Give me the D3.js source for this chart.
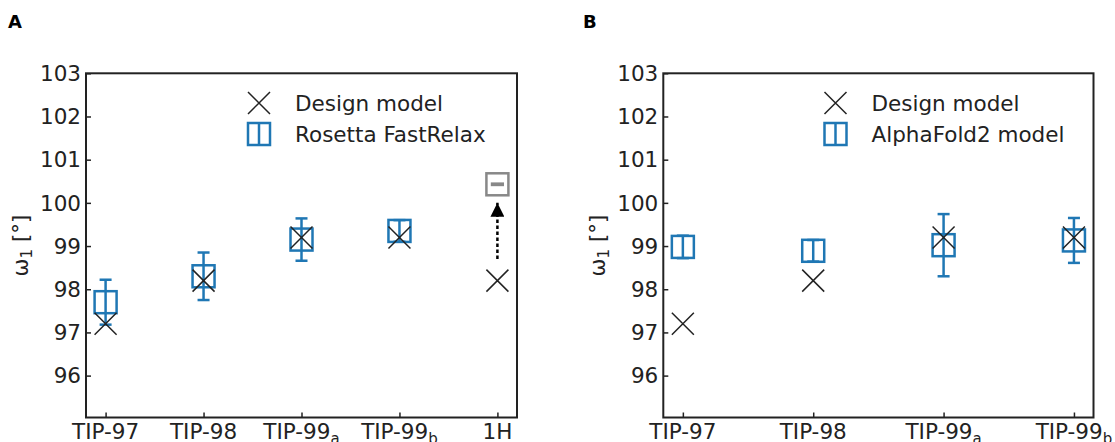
<!DOCTYPE html>
<html>
<head>
<meta charset="utf-8">
<script src="https://cdn.jsdelivr.net/npm/d3@7"></script>
<style>
  body { margin: 0; background: #fff; }
  svg { font-family: "DejaVu Sans", sans-serif; }
</style>
</head>
<body>
<svg id="chart" width="1115" height="442"></svg>
<script>
// categories / tick labels ("_" marks a subscript)
var labelsA = ['TIP-97', 'TIP-98', 'TIP-99_a', 'TIP-99_b', '1H'];
var labelsB = ['TIP-97', 'TIP-98', 'TIP-99_a', 'TIP-99_b'];
var yTicks = [96, 97, 98, 99, 100, 101, 102, 103];

// design model (black x)
var designA = [97.2, 98.2, 99.2, 99.2, 98.2];
var designB = [97.2, 98.2, 99.2, 99.2];

// Rosetta FastRelax mean and std (panel A)
var relaxMean = [97.7, 98.3, 99.15, 99.35];
var relaxErr = [0.52, 0.55, 0.49, 0.25];

// AlphaFold2 model mean and std (panel B)
var alphaMean = [98.98, 98.89, 99.02, 99.13];
var alphaErr = [0.26, 0.25, 0.72, 0.52];

// grey point for 1H and the arrow pointing to it
var greyMean = [100.43];
var greyErr = [0.03];
var arrowFrom = 98.7;
var arrowTo = 100.0;

var blue = '#1f77b4';
var svg = d3.select('#chart');

// arrow head marker
svg.append('defs').append('marker')
    .attr('id', 'head')
    .attr('viewBox', '0 0 10 10')
    .attr('refX', 10)
    .attr('refY', 5)
    .attr('markerUnits', 'userSpaceOnUse')
    .attr('markerWidth', 19)
    .attr('markerHeight', 14)
    .attr('orient', 'auto')
    .append('path')
    .attr('d', 'M0,0L10,5L0,10Z')
    .attr('fill', '#000');

function drawPanel(opts) {
    var g = svg.append('g');
    var x = d3.scaleLinear().domain(opts.xDomain).range([opts.left, opts.right]);
    var y = d3.scaleLinear().domain([95.03, 103]).range([417.5, 73.3]);

    // panel letter
    svg.append('text')
        .attr('x', opts.letterX)
        .attr('y', 28)
        .attr('font-size', 18)
        .attr('font-weight', 'bold')
        .text(opts.letter);

    // y axis: inward ticks
    var yAxis = g.append('g')
        .attr('transform', 'translate(' + opts.left + ',0)')
        .call(d3.axisRight(y).tickValues(yTicks).tickSize(5).tickFormat(''));
    yAxis.select('.domain').remove();
    yAxis.selectAll('line').attr('stroke', '#222').attr('stroke-width', 1.5);

    g.selectAll('.ylab')
        .data(yTicks)
        .enter().append('text')
        .attr('x', opts.left - 5)
        .attr('y', function(d) { return y(d); })
        .attr('dy', '0.36em')
        .attr('text-anchor', 'end')
        .attr('font-size', 21.5)
        .attr('fill', '#222')
        .text(function(d) { return d; });

    // x axis: inward ticks
    var idx = d3.range(opts.labels.length);
    var xAxis = g.append('g')
        .attr('transform', 'translate(0,417.5)')
        .call(d3.axisTop(x).tickValues(idx).tickSize(5).tickFormat(''));
    xAxis.select('.domain').remove();
    xAxis.selectAll('line').attr('stroke', '#222').attr('stroke-width', 1.5);

    idx.forEach(function(i) {
        var parts = opts.labels[i].split('_');
        var t = g.append('text')
            .attr('x', x(i))
            .attr('y', 438.7)
            .attr('text-anchor', 'middle')
            .attr('font-size', 21.5)
            .attr('fill', '#222');
        t.append('tspan').text(parts[0]);
        if (parts[1]) {
            t.append('tspan')
                .attr('font-size', 15)
                .attr('dy', 5)
                .text(parts[1]);
        }
    });

    // y label
    var yl = g.append('text')
        .attr('transform', 'translate(' + (opts.left - 58) + ',245.5) rotate(-90)')
        .attr('text-anchor', 'middle')
        .attr('font-size', 21.5)
        .attr('fill', '#222');
    yl.append('tspan').text('\u03c9');
    yl.append('tspan').attr('font-size', 15).attr('dy', 4).text('1');
    yl.append('tspan').attr('dy', -4).text(' [\u00b0]');

    // error bar + open square
    function errSquares(means, errs, color) {
        means.forEach(function(m, i) {
            var cx = x(i);
            var grp = g.append('g')
                .attr('stroke', color)
                .attr('stroke-width', 2.5)
                .attr('fill', 'none');
            grp.append('line')
                .attr('x1', cx).attr('x2', cx)
                .attr('y1', y(m - errs[i])).attr('y2', y(m + errs[i]));
            [m - errs[i], m + errs[i]].forEach(function(v) {
                grp.append('line')
                    .attr('x1', cx - 6).attr('x2', cx + 6)
                    .attr('y1', y(v)).attr('y2', y(v));
            });
            grp.append('rect')
                .attr('x', cx - 11).attr('y', y(m) - 11)
                .attr('width', 22).attr('height', 22);
        });
    }

    errSquares(opts.means, opts.errs, blue);
    if (opts.greyMean) {
        // grey square sits on the last category
        var off = opts.labels.length - 1;
        var gx = x(off);
        var gg = g.append('g').attr('stroke', '#888').attr('stroke-width', 2.5).attr('fill', 'none');
        opts.greyMean.forEach(function(m, i) {
            gg.append('rect')
                .attr('x', gx - 11).attr('y', y(m) - 11)
                .attr('width', 22).attr('height', 22);
            gg.append('rect')
                .attr('x', gx - 6).attr('y', y(m + opts.greyErr[i]))
                .attr('width', 12).attr('height', y(m - opts.greyErr[i]) - y(m + opts.greyErr[i]))
                .attr('fill', '#888').attr('stroke-width', 1.2);
        });
        // dashed arrow
        g.append('line')
            .attr('x1', gx).attr('x2', gx)
            .attr('y1', y(arrowFrom)).attr('y2', y(arrowTo))
            .attr('stroke', '#000')
            .attr('stroke-width', 2.5)
            .attr('stroke-dasharray', '3.5,2.5')
            .attr('marker-end', 'url(#head)');
    }

    // design model crosses on top
    function cross(sel, cx, cy) {
        sel.append('path')
            .attr('d', 'M' + (cx - 11) + ',' + (cy - 11) + 'L' + (cx + 11) + ',' + (cy + 11) +
                'M' + (cx - 11) + ',' + (cy + 11) + 'L' + (cx + 11) + ',' + (cy - 11))
            .attr('stroke', '#222')
            .attr('stroke-width', 1.5)
            .attr('fill', 'none');
    }
    opts.design.forEach(function(v, i) { cross(g, x(i), y(v)); });

    // frame
    g.append('rect')
        .attr('x', opts.left).attr('y', 73.3)
        .attr('width', opts.right - opts.left).attr('height', 417.5 - 73.3)
        .attr('fill', 'none')
        .attr('stroke', '#222')
        .attr('stroke-width', 2);

    // legend
    var lx = opts.right - 258;
    cross(g, lx, 103);
    var lg = g.append('g').attr('stroke', blue).attr('stroke-width', 2.5).attr('fill', 'none');
    lg.append('rect').attr('x', lx - 11).attr('y', 134 - 11).attr('width', 22).attr('height', 22);
    lg.append('line').attr('x1', lx).attr('x2', lx).attr('y1', 134 - 11).attr('y2', 134 + 11);
    ['Design model', opts.seriesName].forEach(function(s, i) {
        g.append('text')
            .attr('x', opts.right - 222)
            .attr('y', 103 + i * 31)
            .attr('dy', '0.36em')
            .attr('font-size', 21.5)
            .attr('fill', '#222')
            .text(s);
    });
}

drawPanel({
    letter: 'A', letterX: 8,
    left: 86, right: 517, xDomain: [-0.2, 4.2],
    labels: labelsA, design: designA,
    means: relaxMean, errs: relaxErr, seriesName: 'Rosetta FastRelax',
    greyMean: greyMean, greyErr: greyErr
});

drawPanel({
    letter: 'B', letterX: 583,
    left: 663.3, right: 1093.5, xDomain: [-0.15, 3.15],
    labels: labelsB, design: designB,
    means: alphaMean, errs: alphaErr, seriesName: 'AlphaFold2 model'
});
</script>
</body>
</html>
